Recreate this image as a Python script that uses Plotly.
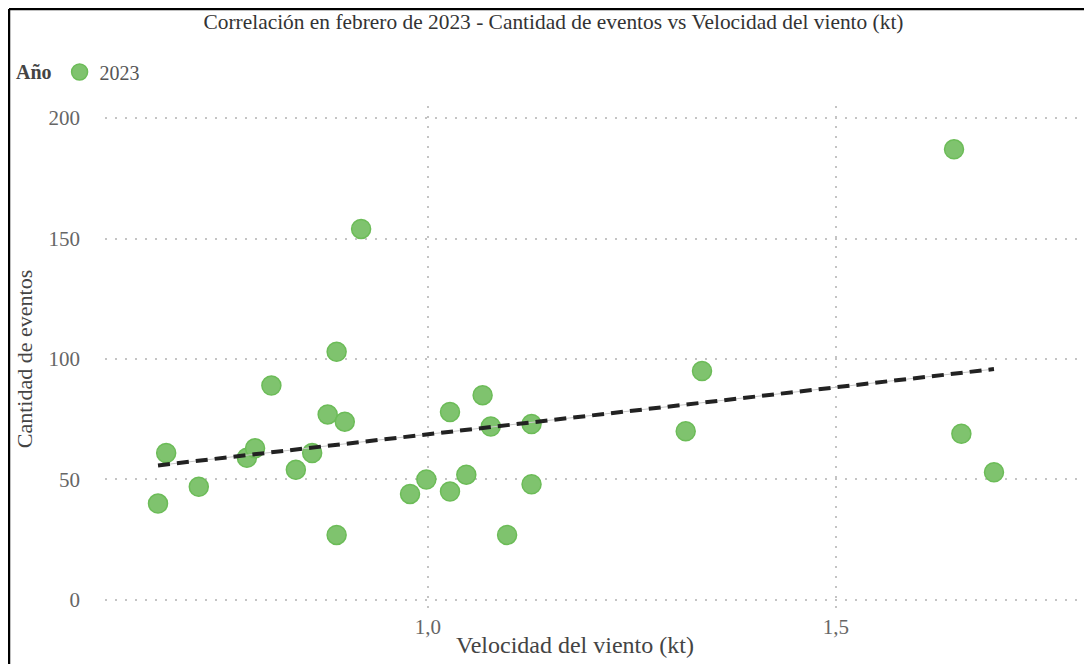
import numpy as np
import plotly.graph_objects as go

# Data
velocidad = [0.669, 0.679, 0.719, 0.778, 0.788, 0.808, 0.838, 0.858, 0.877, 0.888,
             0.888, 0.898, 0.918, 0.978, 0.998, 1.027, 1.027, 1.047, 1.067, 1.077,
             1.097, 1.127, 1.127, 1.316, 1.336, 1.645, 1.654, 1.694]
eventos = [40, 61, 47, 59, 63, 89, 54, 61, 77, 103,
           27, 74, 154, 44, 50, 78, 45, 52, 85, 72,
           27, 73, 48, 70, 95, 187, 69, 53]
anio = "2023"
y_ticks = [0, 50, 100, 150, 200]
x_ticks = [1.0, 1.5]
x_ticklabels = ["1,0", "1,5"]

# Linear trend computed from the data
slope, intercept = np.polyfit(velocidad, eventos, 1)
tx = [min(velocidad), max(velocidad)]
ty = [slope * v + intercept for v in tx]

FONT = "Liberation Serif"

fig = go.Figure()
fig.add_trace(go.Scatter(
    x=velocidad, y=eventos, mode="markers", name=anio,
    marker=dict(size=19, color="#7fc36e", line=dict(color="#6cbc58", width=1.5)),
))
fig.add_trace(go.Scatter(x=tx, y=ty, mode="lines", showlegend=False,
                         line=dict(color="#c8c8c8", width=1), hoverinfo="skip"))
fig.add_trace(go.Scatter(x=tx, y=ty, mode="lines", showlegend=False,
                         line=dict(color="#222222", width=4, dash="12px,7px"), hoverinfo="skip"))

# Page has an 8px body margin, so the figure is 8px smaller and shifted
W, H = 1084, 656
L, R, T, B = 97, 14, 98, 52
pw, ph = W - L - R, H - T - B

def px(xp):
    return (xp - L) / pw

def py(yp):
    return (H - B - yp) / ph

fig.update_layout(
    width=W, height=H,
    margin=dict(l=L, r=R, t=T, b=B, autoexpand=False),
    paper_bgcolor="white", plot_bgcolor="white",
    font=dict(family=FONT, color="#555555", size=20),
    title=dict(text="Correlación en febrero de 2023 - Cantidad de eventos vs Velocidad del viento (kt)",
               x=545.5 / W, xref="container", xanchor="center", y=1 - 14 / H, yanchor="middle",
               font=dict(family=FONT, size=21.4, color="#333333")),
    showlegend=True,
    legend=dict(orientation="h", x=px(6), xanchor="left", y=py(64), yanchor="middle",
                title=dict(text="<b>Año</b>", font=dict(family=FONT, size=20, color="#444444")),
                font=dict(family=FONT, size=20, color="#555555"),
                itemsizing="trace", itemwidth=30, bgcolor="rgba(0,0,0,0)"),
    xaxis=dict(range=[0.604, 1.797], tickvals=x_ticks, ticktext=x_ticklabels, automargin=False,
               showgrid=True, gridcolor="#c4c4c4", griddash="1.5px,8.5px", gridwidth=1.5,
               zeroline=False, showline=False, ticks="",
               tickfont=dict(family=FONT, size=21, color="#666666")),
    yaxis=dict(range=[-5, 205], tickvals=y_ticks, automargin=False,
               showgrid=True, gridcolor="#c4c4c4", griddash="1.5px,8.5px", gridwidth=1.5,
               zeroline=False, showline=False, ticks="", ticklabelstandoff=24,
               title=dict(text="Cantidad de eventos", standoff=9,
                          font=dict(family=FONT, size=22, color="#444444")),
               tickfont=dict(family=FONT, size=21, color="#666666")),
    annotations=[
        dict(text="Velocidad del viento (kt)", xref="paper", yref="paper",
             x=px(567), y=py(637), xanchor="center", yanchor="middle", showarrow=False,
             font=dict(family=FONT, size=24, color="#444444")),
    ],
    shapes=[
        dict(type="line", xref="paper", yref="paper", x0=px(1), x1=px(W), y0=py(1), y1=py(1),
             line=dict(color="black", width=2.5)),
        dict(type="line", xref="paper", yref="paper", x0=px(1), x1=px(1), y0=py(1), y1=py(H),
             line=dict(color="black", width=2.5)),
    ],
)

fig.write_html("out.html")
